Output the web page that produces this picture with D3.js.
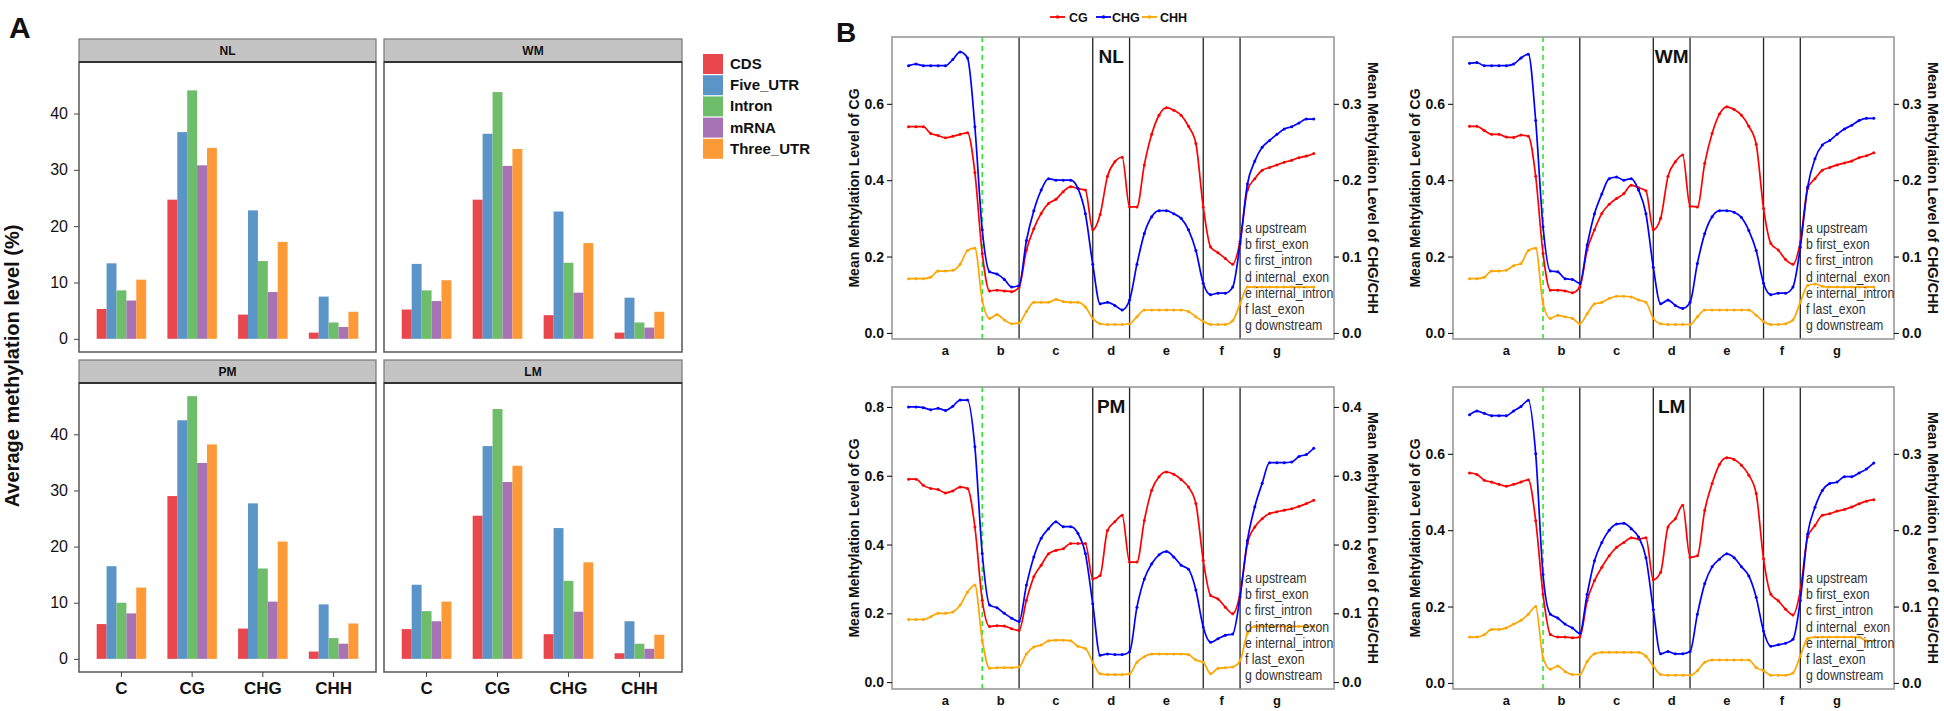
<!DOCTYPE html>
<html><head><meta charset="utf-8">
<script src="https://cdn.jsdelivr.net/npm/d3@7"></script>
<style>
body{margin:0;background:#fff}
svg{display:block}
text{font-family:"Liberation Sans",Arial,sans-serif;fill:#111}
</style>
</head><body>
<svg id="c" width="1944" height="711"></svg>
<script>
// ---------------- Panel A data ----------------
const categories = ["C","CG","CHG","CHH"];
const features = ["CDS","Five_UTR","Intron","mRNA","Three_UTR"];
const featureColors = ["#e8474d","#5b94c7","#6dbd6b","#a773b5","#fd9a38"];
const yTicksA = [0,10,20,30,40];
// rows = categories, columns = features
const barNL = [[5.3,13.4,8.6,6.8,10.5],[24.7,36.7,44.1,30.8,33.9],[4.3,22.8,13.8,8.3,17.2],[1.1,7.5,2.9,2.1,4.8]];
const barWM = [[5.2,13.3,8.6,6.7,10.4],[24.7,36.4,43.8,30.7,33.7],[4.2,22.6,13.5,8.2,17.0],[1.1,7.3,2.9,2.0,4.8]];
const barPM = [[6.2,16.5,10.0,8.1,12.7],[29.0,42.5,46.8,34.9,38.2],[5.4,27.7,16.1,10.2,20.9],[1.3,9.7,3.7,2.7,6.3]];
const barLM = [[5.3,13.2,8.5,6.7,10.2],[25.5,37.9,44.5,31.5,34.4],[4.4,23.3,13.9,8.4,17.2],[1.0,6.7,2.7,1.8,4.3]];

// ---------------- Panel B data ----------------
const contexts = ["CG","CHG","CHH"];
const contextColors = ["#ff0000","#0000ff","#ffa500"];
const regions = ["a","b","c","d","e","f","g"];
const regionNames = ["upstream","first_exon","first_intron","internal_exon","internal_intron","last_exon","downstream"];
const regionBounds = [0,20,30,50,60,80,90,110];
const tssBound = 20;
const bins = d3.range(0, 111, 2); // bin index of each value

const cgNL = [0.54,0.54,0.54,0.522,0.517,0.511,0.515,0.52,0.524,0.42, 0.208,0.11,0.112,0.11,0.108,0.12,0.217,0.273,0.313,0.339, 0.35,0.37,0.383,0.378,0.374,0.27,0.31,0.41,0.448,0.46, 0.33,0.33,0.44,0.52,0.57,0.59,0.583,0.57,0.541,0.496, 0.33,0.225,0.21,0.195,0.18,0.24,0.374,0.404,0.426,0.433, 0.44,0.447,0.452,0.459,0.463,0.47];
const chgNL = [0.35,0.352,0.35,0.35,0.35,0.35,0.358,0.368,0.36,0.27, 0.135,0.08,0.077,0.07,0.06,0.062,0.121,0.16,0.187,0.202, 0.2,0.2,0.2,0.189,0.156,0.09,0.038,0.04,0.036,0.03, 0.043,0.09,0.13,0.152,0.16,0.16,0.156,0.15,0.135,0.108, 0.065,0.05,0.052,0.052,0.06,0.117,0.195,0.225,0.243,0.252, 0.26,0.267,0.27,0.275,0.28,0.28];
const chhNL = [0.071,0.071,0.071,0.073,0.081,0.081,0.082,0.09,0.108,0.111, 0.043,0.019,0.024,0.017,0.012,0.013,0.028,0.04,0.04,0.04, 0.044,0.041,0.04,0.04,0.034,0.019,0.012,0.011,0.011,0.011, 0.012,0.021,0.03,0.03,0.03,0.03,0.03,0.03,0.028,0.021, 0.015,0.011,0.011,0.011,0.016,0.038,0.06,0.06,0.06,0.06, 0.06,0.06,0.06,0.06,0.06,0.06];

const cgWM = [0.541,0.541,0.53,0.52,0.52,0.513,0.512,0.518,0.515,0.41, 0.208,0.112,0.112,0.11,0.105,0.12,0.217,0.27,0.313,0.337, 0.352,0.365,0.387,0.38,0.372,0.27,0.30,0.41,0.448,0.466, 0.332,0.33,0.444,0.522,0.573,0.592,0.585,0.57,0.541,0.494, 0.326,0.234,0.217,0.192,0.18,0.238,0.378,0.404,0.426,0.433, 0.44,0.445,0.45,0.459,0.464,0.472];
const chgWM = [0.353,0.354,0.35,0.35,0.35,0.35,0.352,0.36,0.365,0.278, 0.139,0.081,0.08,0.071,0.07,0.065,0.115,0.156,0.182,0.202, 0.204,0.2,0.202,0.187,0.156,0.086,0.038,0.043,0.036,0.032, 0.04,0.091,0.13,0.152,0.16,0.16,0.158,0.151,0.134,0.108, 0.065,0.05,0.052,0.052,0.06,0.112,0.191,0.228,0.246,0.252, 0.26,0.267,0.272,0.278,0.281,0.281];
const chhWM = [0.071,0.071,0.073,0.081,0.081,0.082,0.088,0.091,0.108,0.111, 0.038,0.019,0.023,0.021,0.019,0.012,0.025,0.038,0.04,0.045, 0.048,0.048,0.047,0.043,0.04,0.019,0.012,0.011,0.011,0.011, 0.011,0.021,0.03,0.03,0.03,0.03,0.03,0.03,0.03,0.023, 0.015,0.011,0.011,0.012,0.017,0.04,0.062,0.064,0.061,0.06, 0.06,0.06,0.06,0.06,0.06,0.06];

const cgPM = [0.59,0.59,0.572,0.563,0.56,0.55,0.556,0.567,0.563,0.451, 0.238,0.162,0.164,0.163,0.155,0.15,0.238,0.306,0.34,0.373, 0.383,0.388,0.403,0.403,0.403,0.30,0.31,0.441,0.466,0.485, 0.349,0.349,0.47,0.558,0.597,0.611,0.604,0.589,0.567,0.519, 0.354,0.252,0.242,0.218,0.199,0.257,0.403,0.451,0.475,0.49, 0.495,0.50,0.504,0.511,0.519,0.529];
const chgPM = [0.40,0.40,0.399,0.396,0.398,0.395,0.401,0.41,0.41,0.342, 0.187,0.112,0.108,0.10,0.093,0.088,0.141,0.182,0.209,0.223, 0.233,0.226,0.226,0.216,0.187,0.114,0.039,0.041,0.04,0.04, 0.044,0.109,0.15,0.172,0.185,0.19,0.182,0.17,0.164,0.134, 0.08,0.058,0.063,0.068,0.07,0.124,0.206,0.255,0.289,0.319, 0.319,0.319,0.32,0.328,0.331,0.34];
const chhPM = [0.091,0.091,0.091,0.095,0.1,0.1,0.102,0.112,0.131,0.141, 0.061,0.02,0.021,0.021,0.021,0.022,0.041,0.051,0.054,0.06, 0.061,0.061,0.06,0.052,0.049,0.029,0.012,0.011,0.011,0.011, 0.012,0.029,0.037,0.041,0.041,0.041,0.041,0.041,0.04,0.032, 0.029,0.012,0.02,0.021,0.022,0.031,0.071,0.081,0.081,0.081, 0.081,0.081,0.081,0.081,0.081,0.081];

const cgLM = [0.55,0.546,0.531,0.526,0.52,0.515,0.52,0.526,0.532,0.425, 0.232,0.127,0.12,0.12,0.118,0.12,0.215,0.268,0.303,0.333, 0.355,0.368,0.38,0.377,0.38,0.27,0.29,0.408,0.43,0.465, 0.329,0.333,0.452,0.522,0.572,0.59,0.585,0.57,0.544,0.496, 0.325,0.232,0.215,0.193,0.178,0.241,0.382,0.412,0.439,0.443, 0.45,0.454,0.461,0.469,0.476,0.48];
const chgLM = [0.351,0.356,0.353,0.35,0.35,0.35,0.356,0.362,0.37,0.30, 0.142,0.09,0.085,0.077,0.072,0.065,0.116,0.16,0.184,0.20, 0.208,0.209,0.202,0.191,0.164,0.096,0.038,0.041,0.038,0.038, 0.041,0.09,0.13,0.152,0.162,0.169,0.164,0.152,0.14,0.112, 0.068,0.048,0.05,0.052,0.057,0.108,0.195,0.23,0.252,0.261, 0.263,0.27,0.27,0.275,0.28,0.288];
const chhLM = [0.06,0.06,0.063,0.07,0.07,0.072,0.077,0.082,0.09,0.1, 0.033,0.018,0.022,0.015,0.011,0.011,0.028,0.038,0.04,0.04, 0.04,0.04,0.04,0.04,0.035,0.022,0.011,0.01,0.01,0.01, 0.01,0.016,0.027,0.03,0.03,0.03,0.03,0.03,0.03,0.02, 0.016,0.01,0.01,0.01,0.013,0.035,0.058,0.06,0.06,0.06, 0.06,0.06,0.06,0.06,0.055,0.055];

const leftTicks34 = [0,0.2,0.4,0.6];
const rightTicks34 = [0,0.1,0.2,0.3];
const leftTicks8 = [0,0.2,0.4,0.6,0.8];
const rightTicks8 = [0,0.1,0.2,0.3,0.4];

// ---------------- drawing ----------------
const svg = d3.select("#c");

svg.append("text").attr("x",9).attr("y",38).attr("font-size",30).attr("font-weight","bold").text("A");
svg.append("text").attr("x",836).attr("y",42).attr("font-size",28).attr("font-weight","bold").text("B");

// ----- Panel A -----
const aMax = d3.max([barNL,barWM,barPM,barLM].flat(2));
const aPanels = [
  {s:"NL", d:barNL, x0:79, x1:376, top:39, y1:352, left:true, bottom:false},
  {s:"WM", d:barWM, x0:384, x1:682, top:39, y1:352, left:false, bottom:false},
  {s:"PM", d:barPM, x0:79, x1:376, top:360, y1:672, left:true, bottom:true},
  {s:"LM", d:barLM, x0:384, x1:682, top:360, y1:672, left:false, bottom:true}
];
const stripH = 23;
aPanels.forEach(p => {
  const g = svg.append("g");
  const py0 = p.top + stripH;
  const y = d3.scaleLinear().domain([-0.05*aMax, 1.05*aMax]).range([p.y1, py0]);
  const x = d3.scaleBand().domain(categories).range([p.x0, p.x1]).paddingInner(0).paddingOuter(0.1);
  const grpW = x.bandwidth()*0.7;
  const xs = d3.scaleBand().domain(features).range([0, grpW]);
  g.append("rect").attr("x",p.x0).attr("y",py0).attr("width",p.x1-p.x0).attr("height",p.y1-py0)
    .attr("fill","#fff").attr("stroke","#555").attr("stroke-width",1.5);
  categories.forEach((c,i) => {
    features.forEach((f,j) => {
      const v = p.d[i][j];
      g.append("rect")
        .attr("x", x(c) + (x.bandwidth()-grpW)/2 + xs(f))
        .attr("y", y(v)).attr("width", xs.bandwidth()).attr("height", y(0)-y(v))
        .attr("fill", featureColors[j]);
    });
  });
  g.append("rect").attr("x",p.x0).attr("y",p.top).attr("width",p.x1-p.x0).attr("height",stripH)
    .attr("fill","#c4c4c4").attr("stroke","#777").attr("stroke-width",1.2);
  g.append("line").attr("x1",p.x0).attr("x2",p.x1).attr("y1",py0).attr("y2",py0)
    .attr("stroke","#333").attr("stroke-width",2.2);
  g.append("text").attr("x",(p.x0+p.x1)/2).attr("y",p.top+stripH/2+4).attr("text-anchor","middle")
    .attr("font-size",12).attr("font-weight","bold").text(p.s);
  if (p.left) {
    const ax = g.append("g").attr("transform",`translate(${p.x0},0)`)
      .call(d3.axisLeft(y).tickValues(yTicksA).tickSize(5).tickPadding(6));
    ax.select(".domain").remove();
    ax.selectAll("line").attr("stroke","#444");
    ax.selectAll("text").attr("font-size",16).attr("font-family","Liberation Sans, Arial, sans-serif").style("fill","#111");
  }
  if (p.bottom) {
    const ax = g.append("g").attr("transform",`translate(0,${p.y1})`)
      .call(d3.axisBottom(x).tickSize(5).tickPadding(5));
    ax.select(".domain").remove();
    ax.selectAll("line").attr("stroke","#444");
    ax.selectAll("text").attr("font-size",17).attr("font-weight","bold").attr("font-family","Liberation Sans, Arial, sans-serif").style("fill","#111");
  }
});
svg.append("text").attr("transform","translate(19,366) rotate(-90)").attr("text-anchor","middle")
  .attr("font-size",20).attr("font-weight","bold").text("Average methylation level (%)");
features.forEach((f,j) => {
  const yy = 54 + j*21.2;
  svg.append("rect").attr("x",703).attr("y",yy).attr("width",20).attr("height",20).attr("fill",featureColors[j]);
  svg.append("text").attr("x",730).attr("y",yy+15).attr("font-size",15).attr("font-weight","bold").text(f);
});

// ----- Panel B -----
const bPanels = [
  {s:"NL", x0:892, x1:1334, y0:37, y1:339, lim:[-0.016,0.775], series:[cgNL,chgNL,chhNL], lt:leftTicks34, rt:rightTicks34},
  {s:"WM", x0:1453, x1:1894, y0:37, y1:339, lim:[-0.016,0.775], series:[cgWM,chgWM,chhWM], lt:leftTicks34, rt:rightTicks34},
  {s:"PM", x0:892, x1:1334, y0:387, y1:689, lim:[-0.020,0.858], series:[cgPM,chgPM,chhPM], lt:leftTicks8, rt:rightTicks8},
  {s:"LM", x0:1453, x1:1894, y0:387, y1:689, lim:[-0.016,0.775], series:[cgLM,chgLM,chhLM], lt:leftTicks34, rt:rightTicks34}
];
const fmt = d3.format(".1f");
bPanels.forEach(p => {
  const g = svg.append("g");
  const x = d3.scaleLinear().domain([-4.5,115.5]).range([p.x0,p.x1]);
  const yL = d3.scaleLinear().domain(p.lim).range([p.y1,p.y0]);
  const yR = d3.scaleLinear().domain([p.lim[0]/2, p.lim[1]/2]).range([p.y1,p.y0]);
  regionBounds.slice(1,-1).forEach(b => {
    const ln = g.append("line").attr("x1",x(b)).attr("x2",x(b)).attr("y1",p.y0).attr("y2",p.y1);
    if (b === tssBound) ln.attr("stroke","#2ee82e").attr("stroke-width",1.6).attr("stroke-dasharray","5,4");
    else ln.attr("stroke","#222").attr("stroke-width",1.3);
  });
  p.series.forEach((vals,k) => {
    const yy = k === 0 ? yL : yR;
    const pts = bins.map((b,i) => [x(b), yy(vals[i])]);
    g.append("path").attr("d", d3.line().curve(d3.curveMonotoneX)(pts))
      .attr("fill","none").attr("stroke",contextColors[k]).attr("stroke-width",1.7);
    g.selectAll(null).data(pts).enter().append("circle")
      .attr("cx",d=>d[0]).attr("cy",d=>d[1]).attr("r",1.5).attr("fill",contextColors[k]);
  });
  g.append("rect").attr("x",p.x0).attr("y",p.y0).attr("width",p.x1-p.x0).attr("height",p.y1-p.y0)
    .attr("fill","none").attr("stroke","#999").attr("stroke-width",1.6);
  g.append("text").attr("x",x((regionBounds[3]+regionBounds[4])/2)).attr("y",p.y0+26).attr("text-anchor","middle")
    .attr("font-size",19).attr("font-weight","bold").text(p.s);
  regions.forEach((r,i) => {
    g.append("text").attr("transform",`translate(${p.x0+353},${p.y0+196+i*16.2}) scale(0.85,1)`)
      .attr("font-size",14.5).style("fill","#333").text(r+" "+regionNames[i]);
  });
  regions.forEach((r,i) => {
    g.append("text").attr("x",x((regionBounds[i]+regionBounds[i+1])/2)).attr("y",p.y1+16)
      .attr("text-anchor","middle").attr("font-size",13).attr("font-weight","bold").text(r);
  });
  const la = g.append("g").attr("transform",`translate(${p.x0},0)`)
    .call(d3.axisLeft(yL).tickValues(p.lt).tickFormat(fmt).tickSize(5).tickPadding(3));
  la.select(".domain").remove();
  la.selectAll("text").attr("font-size",14).attr("font-weight","bold").attr("font-family","Liberation Sans, Arial, sans-serif").style("fill","#111");
  const ra = g.append("g").attr("transform",`translate(${p.x1},0)`)
    .call(d3.axisRight(yR).tickValues(p.rt).tickFormat(fmt).tickSize(5).tickPadding(3));
  ra.select(".domain").remove();
  ra.selectAll("text").attr("font-size",14).attr("font-weight","bold").attr("font-family","Liberation Sans, Arial, sans-serif").style("fill","#111");
  const cy = (p.y0+p.y1)/2;
  g.append("text").attr("transform",`translate(${p.x0-33},${cy}) rotate(-90)`).attr("text-anchor","middle")
    .attr("font-size",14).attr("font-weight","bold").text("Mean Mehtylation Level of CG");
  g.append("text").attr("transform",`translate(${p.x1+34},${cy}) rotate(90)`).attr("text-anchor","middle")
    .attr("font-size",14.5).attr("font-weight","bold").text("Mean Mehtylation Level of CHG/CHH");
});
const legPos = [[1050,1069],[1096,1112],[1142,1160]];
contexts.forEach((c,k) => {
  const [lx,tx] = legPos[k];
  svg.append("line").attr("x1",lx).attr("x2",lx+15).attr("y1",17).attr("y2",17).attr("stroke",contextColors[k]).attr("stroke-width",1.8);
  svg.append("circle").attr("cx",lx+7.5).attr("cy",17).attr("r",1.8).attr("fill",contextColors[k]);
  svg.append("text").attr("x",tx).attr("y",21.5).attr("font-size",12.5).attr("font-weight","bold").text(c);
});
</script>
</body></html>
